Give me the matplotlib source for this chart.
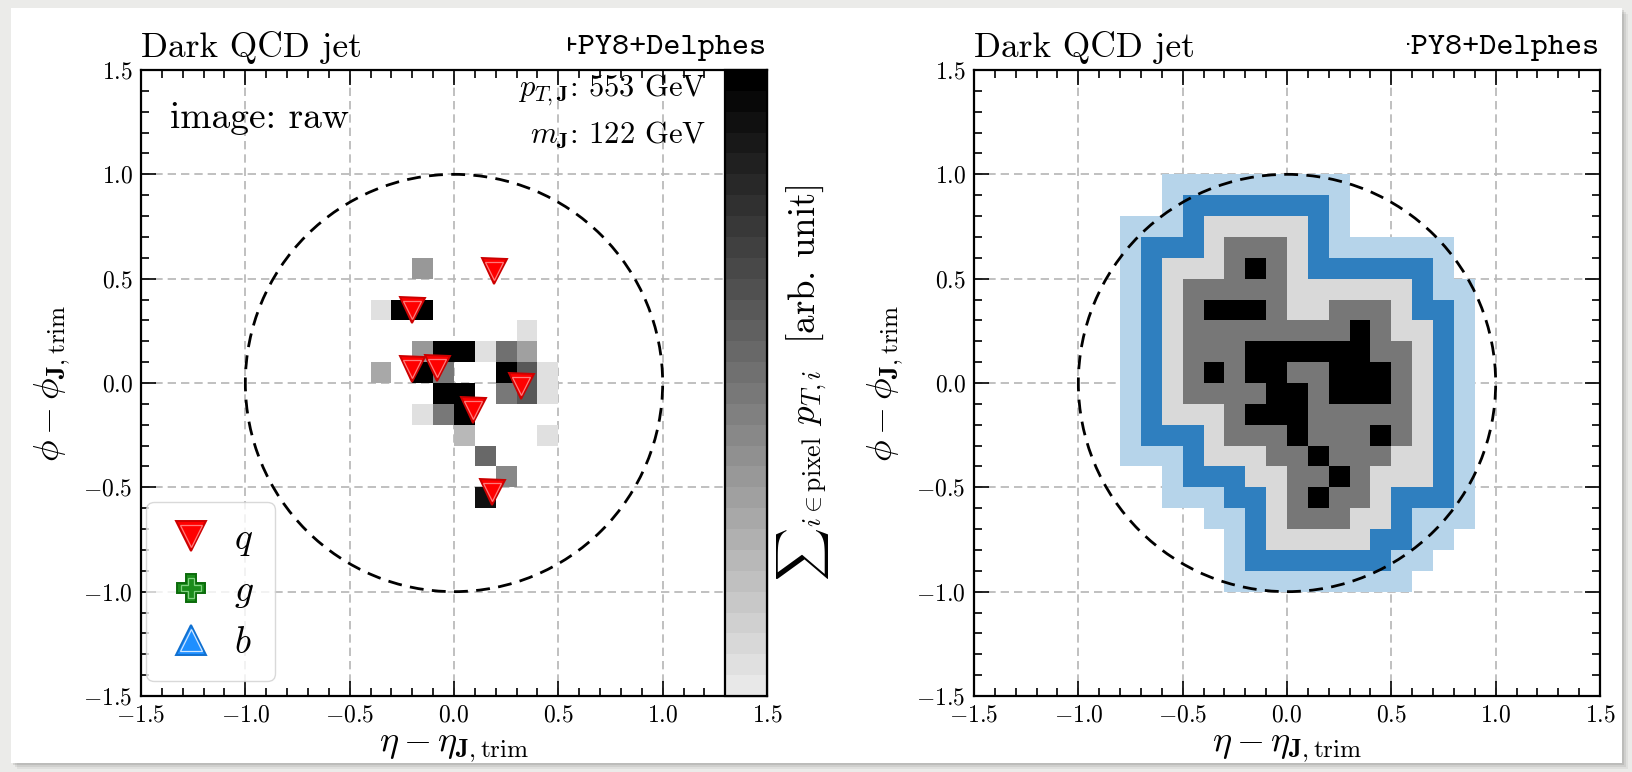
import numpy as np
import matplotlib
matplotlib.use("Agg")
import matplotlib.pyplot as plt
from matplotlib.colors import ListedColormap, Normalize, BoundaryNorm
from matplotlib.cm import ScalarMappable
from matplotlib.lines import Line2D
from matplotlib.patches import Circle, Rectangle
from matplotlib.legend_handler import HandlerTuple
from matplotlib.ticker import MultipleLocator
from matplotlib.transforms import Bbox

plt.rcParams["font.family"] = "serif"
plt.rcParams["font.serif"] = ["cmr10"]
plt.rcParams["mathtext.fontset"] = "cm"
plt.rcParams["axes.formatter.use_mathtext"] = True

# ── raw image pixels (cell centres, 0.1 x 0.1 cells) ─────────────────────────
raw_eta = [-0.15, -0.35, -0.25, -0.15, 0.35, -0.15, -0.05, 0.05, 0.15, 0.25,
           0.35, -0.35, -0.15, -0.05, 0.25, 0.35, 0.45, -0.05, 0.05, 0.25,
           0.35, 0.45, -0.15, -0.05, 0.05, 0.05, 0.45, 0.15, 0.25, 0.15]
raw_phi = [0.55, 0.35, 0.35, 0.35, 0.25, 0.15, 0.15, 0.15, 0.15, 0.15,
           0.15, 0.05, 0.05, 0.05, 0.05, 0.05, 0.05, -0.05, -0.05, -0.05,
           -0.05, -0.05, -0.15, -0.15, -0.15, -0.25, -0.25, -0.35, -0.45, -0.55]
raw_val = [0.34, 0.06, 1.00, 1.00, 0.06, 0.34, 1.00, 1.00, 0.06, 0.52,
           0.31, 0.27, 1.00, 0.49, 1.00, 0.63, 0.06, 1.00, 1.00, 0.49,
           0.63, 0.06, 0.06, 0.49, 1.00, 0.22, 0.06, 0.56, 0.41, 0.93]

# ── partons ──────────────────────────────────────────────────────────────────
q_eta = [0.19, -0.20, -0.20, -0.08, 0.09, 0.32, 0.18]
q_phi = [0.535, 0.35, 0.065, 0.072, -0.128, -0.016, -0.52]

jet_pt = 553
jet_m = 122

# ── processed image: contour class per cell, rows phi 0.9 -> -1.0, cols eta -0.8 -> 0.8
# 0 empty, 1 light blue, 2 blue, 3 light grey, 4 grey, 5 black
proc_eta_edges = [-0.8, 0.9]
proc_phi_edges = [-1.0, 1.0]
proc_rows = [
    "00111111111000000",
    "00122222221000000",
    "11123333321000000",
    "12223444321111110",
    "12333454322222210",
    "12344444333333211",
    "12345554334443221",
    "12344444444543321",
    "12344455555544321",
    "12345455445554321",
    "12344445545554321",
    "12333455544444321",
    "12223444544454321",
    "11123334454443321",
    "00122233445433321",
    "00111223454432221",
    "00001123444332111",
    "00000123333322110",
    "00000122222221100",
    "00000111111111000",
]
proc_colors = ["#ffffff", "#b6d4ea", "#2f7fbf", "#d9d9d9", "#777777", "#000000"]

W, H = 1633, 772
fig = plt.figure(figsize=(W / 100, H / 100), dpi=100)
fig.patch.set_facecolor("#ebebe9")

# card with soft shadow
for off, a in [(6, 0.05), (4, 0.07), (2, 0.09)]:
    fig.add_artist(Rectangle(((11 + off) / W, (9 - off) / H), 1611 / W, 755 / H,
                             transform=fig.transFigure, facecolor="black",
                             alpha=a, edgecolor="none", zorder=-3))
fig.add_artist(Rectangle((11 / W, 9 / H), 1611 / W, 755 / H,
                         transform=fig.transFigure, facecolor="white",
                         edgecolor="none", zorder=-2))

ax1 = fig.add_axes([141 / W, 76 / H, 626 / W, 626 / H])
ax2 = fig.add_axes([974 / W, 76 / H, 626 / W, 626 / H])


def style_axes(ax):
    ax.set_xlim(-1.5, 1.5)
    ax.set_ylim(-1.5, 1.5)
    ax.set_facecolor("none")
    ax.xaxis.set_major_locator(MultipleLocator(0.5))
    ax.yaxis.set_major_locator(MultipleLocator(0.5))
    ax.xaxis.set_minor_locator(MultipleLocator(0.1))
    ax.yaxis.set_minor_locator(MultipleLocator(0.1))
    ax.tick_params(which="both", direction="in", top=True, right=True,
                   labelsize=17, width=1.2, pad=6)
    ax.tick_params(which="major", length=11)
    ax.tick_params(which="minor", length=6)
    for s in ax.spines.values():
        s.set_linewidth(1.6)
    ax.grid(True, which="major", color="#b5b5b5", ls=(0, (5, 3)), lw=1.2, zorder=0)
    ax.set_axisbelow(True)
    ax.add_patch(Circle((0, 0), 1.0, fill=False, ls=(0, (5, 3)), lw=2.0,
                        color="black", zorder=6))
    ax.set_xlabel(r"$\eta - \eta_{\mathbf{J},\mathrm{trim}}$", fontsize=26, labelpad=4)
    ax.set_ylabel(r"$\phi - \phi_{\mathbf{J},\mathrm{trim}}$", fontsize=26, labelpad=8)
    ax.set_title("Dark QCD jet", loc="left", fontsize=25.5, pad=9)


# ── left panel: raw image ────────────────────────────────────────────────────
edges = np.linspace(-1.5, 1.5, 31)
grid = np.full((30, 30), np.nan)
for e, p, v in zip(raw_eta, raw_phi, raw_val):
    i = int(round((p + 1.5) / 0.1 - 0.5))
    j = int(round((e + 1.5) / 0.1 - 0.5))
    grid[i, j] = v
grey_cmap = ListedColormap([str(g) for g in np.linspace(0.91, 0.0, 30)])
norm = Normalize(0, 1)
ax1.pcolormesh(edges, edges, np.ma.masked_invalid(grid), cmap=grey_cmap,
               norm=norm, zorder=2)
style_axes(ax1)

for ms, mfc, mec, mew, z in [(18, "#ff0000", "#cc0000", 1.4, 8),
                              (13, "none", "#ff7a7a", 0.9, 9)]:
    ax1.plot(q_eta, q_phi, ls="none", marker="v", ms=ms, mfc=mfc, mec=mec,
             mew=mew, zorder=z)

ax1.text(-1.36, 1.27, "image: raw", fontsize=27, ha="left", va="center")
ax1.text(1.21, 1.40, r"$p_{T,\mathbf{J}}$: %d GeV" % jet_pt, fontsize=22,
         ha="right", va="center")
ax1.text(1.21, 1.185, r"$m_{\mathbf{J}}$: %d GeV" % jet_m, fontsize=22,
         ha="right", va="center")


def mk(marker, fc, ec, inner, ms=22, ims=16):
    outer = Line2D([], [], ls="none", marker=marker, ms=ms, mfc=fc, mec=ec, mew=1.4)
    inn = Line2D([], [], ls="none", marker=marker, ms=ims, mfc="none", mec=inner, mew=0.9)
    return (outer, inn)


handles = [mk("v", "#ff0000", "#cc0000", "#ff7a7a"),
           mk("P", "#1a8c1a", "#0b6b0b", "#7fd07f", ms=20, ims=15),
           mk("^", "#1e8fff", "#1070d0", "#cfe6ff")]
leg = ax1.legend(handles, ["$q$", "$g$", "$b$"], loc="lower left",
                 bbox_to_anchor=(0.008, 0.024), borderaxespad=0.0,
                 handler_map={tuple: HandlerTuple(ndivide=1)},
                 fontsize=27, handletextpad=0.5, labelspacing=0.45,
                 borderpad=0.55, handlelength=1.3, fancybox=True,
                 framealpha=0.8, edgecolor="#d0d0d0")
leg.set_zorder(10)

cax = ax1.inset_axes([1.3, -1.5, 0.2, 3.0], transform=ax1.transData)
cb = fig.colorbar(ScalarMappable(norm=norm, cmap=grey_cmap), cax=cax)
cb.set_ticks([])
cb.outline.set_linewidth(1.6)
ax1.text(1.058, 0.5, r"$\sum{}_{i\in\mathrm{pixel}}\ p_{T,i}$  [arb. unit]",
         transform=ax1.transAxes, rotation=90, ha="center", va="center",
         fontsize=26.5)

# ── right panel: processed image ─────────────────────────────────────────────
cls = np.array([[int(c) for c in row] for row in proc_rows[::-1]], dtype=float)
cls = np.ma.masked_equal(cls, 0)
ex = np.linspace(proc_eta_edges[0], proc_eta_edges[1], len(proc_rows[0]) + 1)
ey = np.linspace(proc_phi_edges[0], proc_phi_edges[1], len(proc_rows) + 1)
ax2.pcolormesh(ex, ey, cls, cmap=ListedColormap(proc_colors),
               norm=BoundaryNorm(np.arange(-0.5, 6.5, 1), 6), zorder=2)
style_axes(ax2)

# generator tag, partially hidden on the left as in the original
tags = []
for ax, cut in [(ax1, 11.58), (ax2, 11.25)]:
    t = ax.text(1.0, 1.015, "MG5+PY8+Delphes", transform=ax.transAxes,
                ha="right", va="bottom", fontsize=23.5, family="cmtt10")
    tags.append((t, cut))
fig.canvas.draw()
for t, cut in tags:
    bb = t.get_window_extent()
    cw = bb.width / 15.0
    t.set_clip_box(Bbox.from_extents(bb.x1 - cut * cw, 0, W, H))
    t.set_clip_on(True)

fig.savefig("out.png", dpi=100)
